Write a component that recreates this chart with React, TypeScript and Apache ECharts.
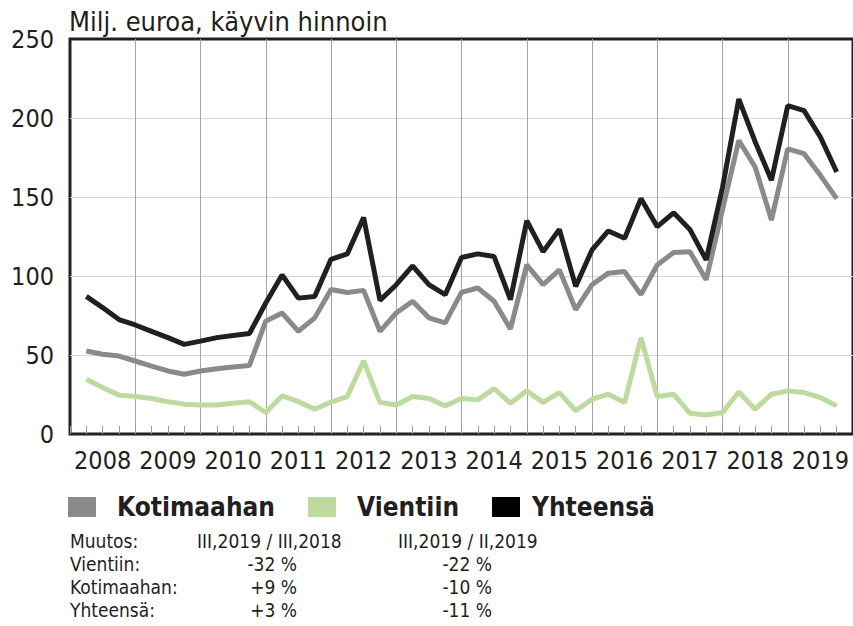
import React, { useEffect, useRef } from "react";
import * as echarts from "echarts";

const years = ["2008", "2009", "2010", "2011", "2012", "2013", "2014", "2015", "2016", "2017", "2018", "2019"];

// Quarterly values, 2008 Q1 ... 2019 Q3 (milj. euroa)
const kotimaahan = [
  52.5, 50.5, 49.3, 46.2, 43, 39.9, 37.8, 39.9, 41.3, 42.4, 43.4, 71.4,
  76.6, 65, 73.5, 91.5, 89.6, 90.9, 65, 76.6, 84, 73.5, 70.3, 89.6,
  92.4, 84, 66.5, 107, 94.5, 103.9, 78.7, 94.5, 101.8, 102.8, 88.2, 107,
  114.8, 115.4, 97.6, 142, 185.8, 169, 135.4, 180.5, 177.4, 163.7, 149,
];
const vientiin = [
  34.6, 29.4, 24.6, 23.7, 22.5, 20.4, 18.9, 18.3, 18.3, 19.5, 20.4, 13.6,
  24.1, 20.5, 15.7, 20.2, 23.7, 46.2, 20, 18.3, 23.7, 22.5, 17.8, 22.5,
  21.6, 28.8, 19.5, 27.3, 20, 26.2, 14.7, 22, 25.2, 20, 60.9, 23.7,
  25.2, 13.2, 12, 13.6, 26.6, 15.7, 25.2, 27.3, 26.2, 23.1, 17.8,
];
const yhteensa = [
  87.1, 80, 72.4, 69, 65, 61, 56.7, 58.8, 61, 62.3, 63.6, 82.9,
  100.7, 86, 87, 110.6, 114, 137, 84.6, 94.5, 106.4, 94.5, 88.2, 111.7,
  114, 112.3, 85, 135, 115.4, 129.5, 93.4, 116.5, 128.5, 123.9, 149, 131.2,
  140, 129.5, 110.2, 156, 212, 185, 160.6, 207.8, 204.7, 188, 165.8,
];

const seriesNames = ["Kotimaahan", "Vientiin", "Yhteensä"];
const seriesColors = ["#8a8a8a", "#bddb9f", "#231f20"];
const legendSwatch = ["#8a8a8a", "#bddb9f", "#000000"];

const titleText = "Milj. euroa, käyvin hinnoin";
const changeHeader = ["Muutos:", "III,2019 / III,2018", "III,2019 / II,2019"];
const changeRows = [
  ["Vientiin:", "-32 %", "-22 %"],
  ["Kotimaahan:", "+9 %", "-10 %"],
  ["Yhteensä:", "+3 %", "-11 %"],
];

const FONT = "'DejaVu Sans Condensed', 'DejaVu Sans', sans-serif";
const TXT = "#231f20";

const toXY = (arr: number[]) => arr.map((v, i) => [i + 1, v]);

export default function App() {
  const ref = useRef<HTMLDivElement>(null);
  useEffect(() => {
    if (!ref.current) return;
    const chart = echarts.init(ref.current, null, { renderer: "svg" });

    const legendX = [68, 308, 492];
    const legendTextX = [117, 357, 532];
    const legendEls: any[] = [];
    seriesNames.forEach((n, i) => {
      legendEls.push({
        type: "rect",
        shape: { x: legendX[i], y: 497, width: 28, height: 20 },
        style: { fill: legendSwatch[i] },
      });
      legendEls.push({
        type: "text",
        style: {
          text: n, x: legendTextX[i], y: 507, fontSize: 26, fontWeight: "bold",
          fontFamily: FONT, fill: TXT, align: "left", verticalAlign: "middle",
        },
      });
    });

    const tableEls: any[] = [];
    const rows = [changeHeader, ...changeRows];
    const rowY = [541, 564, 587, 610];
    rows.forEach((r, ri) => {
      const isHeader = ri === 0;
      tableEls.push({
        type: "text",
        style: { text: r[0], x: 70, y: rowY[ri], fontSize: 19, fontFamily: FONT, fill: TXT, align: "left", verticalAlign: "middle" },
      });
      tableEls.push({
        type: "text",
        style: {
          text: r[1], x: isHeader ? 197 : 297, y: rowY[ri], fontSize: 19, fontFamily: FONT, fill: TXT,
          align: isHeader ? "left" : "right", verticalAlign: "middle",
        },
      });
      tableEls.push({
        type: "text",
        style: {
          text: r[2], x: isHeader ? 398 : 492, y: rowY[ri], fontSize: 19, fontFamily: FONT, fill: TXT,
          align: isHeader ? "left" : "right", verticalAlign: "middle",
        },
      });
    });

    const data = [kotimaahan, vientiin, yhteensa];
    const order = [1, 0, 2];

    chart.setOption({
      animation: false,
      backgroundColor: "#ffffff",
      grid: {
        left: 70, top: 39, width: 784, height: 395,
        show: true, borderColor: TXT, borderWidth: 3, backgroundColor: "transparent",
      },
      xAxis: [
        {
          type: "value", min: 0, max: 48, interval: 4,
          axisLine: { show: false },
          axisLabel: { show: false },
          axisTick: { show: true, inside: true, length: 8, lineStyle: { color: "#9a9a9a", width: 1 } },
          minorTick: { show: true, splitNumber: 4, length: 8, lineStyle: { color: "#9a9a9a", width: 1 } },
          splitLine: { show: true, showMinLine: false, showMaxLine: false, lineStyle: { color: "#a4a4a4", width: 1 } },
        },
        {
          type: "category", data: years, boundaryGap: true, position: "bottom",
          axisLine: { show: false }, axisTick: { show: false }, splitLine: { show: false },
          axisLabel: { interval: 0, fontSize: 25, fontFamily: FONT, color: TXT, margin: 14 },
        },
      ],
      yAxis: {
        type: "value", min: 0, max: 250, interval: 50,
        axisLine: { show: false }, axisTick: { show: false },
        splitLine: { show: true, showMinLine: false, showMaxLine: false, lineStyle: { color: "#d6d6d6", width: 1 } },
        axisLabel: { fontSize: 25, fontFamily: FONT, color: TXT, margin: 16, padding: [6, 0, 0, 0] },
      },
      series: order.map((i) => ({
        name: seriesNames[i],
        type: "line",
        xAxisIndex: 0,
        symbol: "none",
        data: toXY(data[i]),
        lineStyle: { color: seriesColors[i], width: 5 },
        itemStyle: { color: seriesColors[i] },
      })),
      graphic: [
        {
          type: "text",
          style: { text: titleText, x: 69, y: 21, fontSize: 27, fontFamily: FONT, fill: TXT, align: "left", verticalAlign: "middle" },
        },
        ...legendEls,
        ...tableEls,
      ],
    });
    return () => chart.dispose();
  }, []);
  return (
    <div style={{ position: "fixed", left: 0, top: 0, width: 853, height: 626, background: "#fff" }}>
      <div ref={ref} style={{ width: 853, height: 626 }} />
    </div>
  );
}
